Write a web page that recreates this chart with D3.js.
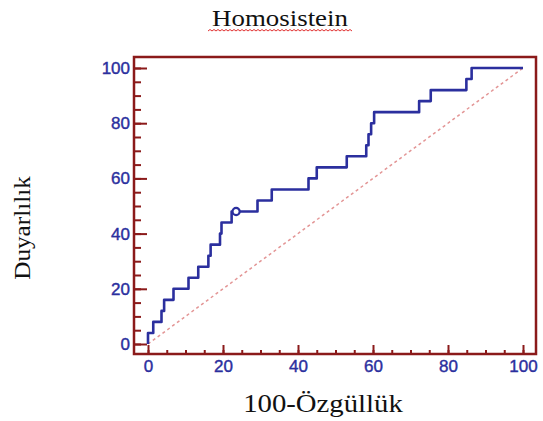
<!DOCTYPE html>
<html>
<head>
<meta charset="utf-8">
<script src="https://cdn.jsdelivr.net/npm/d3@7"></script>
<style>
  body { margin: 0; background: #fff; }
  svg { display: block; }
</style>
</head>
<body>
<div id="chart"></div>
<script>
// ROC curve corner points (100-specificity, sensitivity)
const fpr = [0, 0, 1.4, 3.6, 4.3, 6.8, 10.8, 13.4, 16.1, 16.7, 19.2, 19.6, 22.3, 29.2, 33, 42.8, 45, 53, 58.2, 58.8, 59.5, 60.3, 72.3, 75.4, 84.9, 86.3, 100];
const tpr = [0, 4, 8, 12, 16, 20, 24, 28, 32, 36, 40, 44, 48, 52, 56, 60, 64, 68, 72, 76, 80, 84, 88, 92, 96, 100, 100];
// optimal cut-off marker
const cutX = [23.5];
const cutY = [48];
const majorTicks = [0, 20, 40, 60, 80, 100];
const minorTicks = d3.range(0, 101, 5);

const W = 543, H = 421;
const red = '#8b1a1a', blue = '#2b2f9e';

const svg = d3.select('#chart').append('svg')
  .attr('width', W).attr('height', H);

const x = d3.scaleLinear().domain([0, 100]).range([148, 523]);
const y = d3.scaleLinear().domain([0, 100]).range([344, 68]);

const frame = {left: 134, top: 57, right: 536, bottom: 354};

// reference diagonal
svg.append('line')
  .attr('x1', x(0)).attr('y1', y(0))
  .attr('x2', x(100)).attr('y2', y(100))
  .attr('stroke', '#e39595').attr('stroke-width', 1.5)
  .attr('stroke-dasharray', '3,3');

// frame
svg.append('rect')
  .attr('x', frame.left).attr('y', frame.top)
  .attr('width', frame.right - frame.left).attr('height', frame.bottom - frame.top)
  .attr('fill', 'none').attr('stroke', red).attr('stroke-width', 2.5);

//axes: minor + major ticks pointing inward
function styleAxis(g) {
  g.select('.domain').remove();
  g.selectAll('line').attr('stroke', red).attr('stroke-width', 2);
  g.selectAll('text').attr('fill', blue)
    .attr('stroke', blue).attr('stroke-width', 0.4)
    .style('font-family', 'Liberation Sans, Arial, sans-serif')
    .style('font-size', '17px');
}

svg.append('g').attr('transform', `translate(${frame.left},0)`)
  .call(d3.axisLeft(y).tickValues(minorTicks).tickSize(-7).tickFormat(''))
  .call(styleAxis);
svg.append('g').attr('transform', `translate(${frame.left},0)`)
  .call(d3.axisLeft(y).tickValues(majorTicks).tickSize(-13).tickPadding(4))
  .call(styleAxis);

svg.append('g').attr('transform', `translate(0,${frame.bottom})`)
  .call(d3.axisBottom(x).tickValues(minorTicks).tickSize(-4).tickFormat(''))
  .call(styleAxis);
svg.append('g').attr('transform', `translate(0,${frame.bottom})`)
  .call(d3.axisBottom(x).tickValues(majorTicks).tickSize(-9).tickPadding(6))
  .call(styleAxis);

// ROC curve
const line = d3.line()
  .x(d => x(d[0])).y(d => y(d[1]))
  .curve(d3.curveStepAfter);

svg.append('path')
  .datum(fpr.map((v, i) => [v, tpr[i]]))
  .attr('d', line)
  .attr('fill', 'none').attr('stroke', blue).attr('stroke-width', 2.6)
  .attr('stroke-linejoin', 'round');

svg.selectAll('.cut').data(cutX).enter().append('circle')
  .attr('cx', d => x(d)).attr('cy', (d, i) => y(cutY[i]))
  .attr('r', 3.6)
  .attr('fill', '#fff').attr('stroke', blue).attr('stroke-width', 2.2);

// titles
const serif = 'Liberation Serif, Times New Roman, serif';
svg.append('text')
  .attr('transform', 'translate(280,26) scale(1.12,1)')
  .attr('text-anchor', 'middle')
  .style('font-family', serif).style('font-size', '24px')
  .attr('fill', '#111')
  .text('Homosistein');

// red spell-check squiggle under title
let sq = 'M208,31';
for (let px = 208, k = 0; px < 352; px += 2, k++) {
  sq += `L${px + 2},${k % 2 ? 31 : 29.5}`;
}
svg.append('path').attr('d', sq)
  .attr('fill', 'none').attr('stroke', '#e03030').attr('stroke-width', 1);

svg.append('text')
  .attr('transform', 'translate(30,228) rotate(-90) scale(1.05,1)')
  .attr('text-anchor', 'middle')
  .style('font-family', serif).style('font-size', '24px')
  .attr('fill', '#111')
  .text('Duyarlılık');

svg.append('text')
  .attr('transform', 'translate(323,412) scale(1.15,1)')
  .attr('text-anchor', 'middle')
  .style('font-family', serif).style('font-size', '25px')
  .attr('fill', '#111')
  .text('100-Özgüllük');
</script>
</body>
</html>
